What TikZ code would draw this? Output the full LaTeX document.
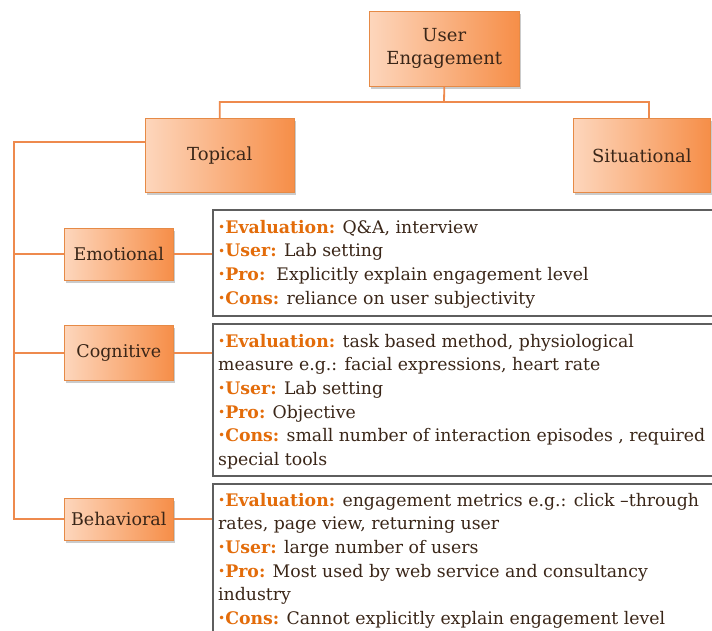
\documentclass[tikz,border=0pt]{standalone}
\usepackage{graphicx}
\usepackage{fontspec}
\setmainfont{DejaVu Serif}
\usetikzlibrary{shadows,calc}
\definecolor{eorange}{HTML}{E36C0A}
\definecolor{lineor}{HTML}{EE8A4D}
\definecolor{boxlight}{HTML}{FDD6BC}
\definecolor{boxdark}{HTML}{F68E48}
\definecolor{tdark}{HTML}{3A2618}
\definecolor{boxbord}{HTML}{5E5E5E}
\newcommand\bul{{\color{eorange}\raisebox{0.2ex}{\scalebox{0.7}{\textbullet}}}}
\newcommand\lab[1]{{\color{eorange}\bfseries #1}}
\tikzset{
  obox/.style={draw=boxdark!70!brown, line width=0.6pt, left color=boxlight, right color=boxdark,
    drop shadow={shadow xshift=2pt, shadow yshift=-2.5pt, fill=black!40, opacity=0.5},
    text=tdark, align=center, font=\fontsize{17.5}{22}\selectfont, anchor=north west},
  obig/.style={obox, font=\fontsize{18}{23}\selectfont},
  conn/.style={draw=lineor, line width=1.8pt},
  tbox/.style={draw=boxbord, line width=1.8pt, fill=white, anchor=north west, inner sep=0pt},
  ttext/.style={text=tdark, align=left, anchor=north west, inner sep=0pt,
    font=\fontsize{17.3}{23.6}\selectfont}
}
\begin{document}
\begin{tikzpicture}[x=1pt,y=-1pt]
\clip (0,0) rectangle (712,630);
\fill[white] (0,0) rectangle (712,630);
% top level
\node[obig, minimum width=150pt, minimum height=75pt] (ue) at (369,11) {User\\Engagement};
\node[obig, minimum width=149pt, minimum height=74pt] (top) at (145,118) {Topical};
\node[obig, minimum width=137pt, minimum height=74pt] (sit) at (573,118) {Situational};
\coordinate (bus) at (444,102);
\coordinate (trunk) at (14,142);
\draw[conn] (ue.south) -- (bus) -| (top.north);
\draw[conn] (bus) -| ($(sit.north)+(7,0)$);
% second level
\node[obox, minimum width=109pt, minimum height=52pt] (emo) at (64,228) {Emotional};
\node[obox, minimum width=109pt, minimum height=55pt] (cog) at (64,325) {Cognitive};
\node[obox, minimum width=109pt, minimum height=42pt] (beh) at (64,498) {Behavioral};
\draw[conn] (top.west |- trunk) -- (trunk) -- (trunk |- beh.west) -- (beh.west);
\draw[conn] (trunk |- emo.west) -- (emo.west);
\draw[conn] (trunk |- cog.west) -- (cog.west);
% text boxes
\node[tbox, minimum width=500pt, minimum height=106pt] (emobox) at (212,209) {};
\node[tbox, minimum width=500pt, minimum height=152pt] (cogbox) at (212,323) {};
\node[tbox, minimum width=500pt, minimum height=170pt] (behbox) at (212,483) {};
\draw[conn] (emo.east) -- (emo.east -| emobox.west);
\draw[conn] (cog.east) -- (cog.east -| cogbox.west);
\draw[conn] (beh.east) -- (beh.east -| behbox.west);
\node[ttext] (emotext) at (218,220) {\bul\lab{Evaluation:} Q\&A, interview\\
\bul\lab{User:} Lab setting\\
\bul\lab{Pro:}\ \ Explicitly explain engagement level\\
\bul\lab{Cons:} reliance on user subjectivity};
\node[ttext] (cogtext) at (218,334) {\bul\lab{Evaluation:} task based method, physiological\\
measure e.g.: facial expressions, heart rate\\
\bul\lab{User:} Lab setting\\
\bul\lab{Pro:} Objective\\
\bul\lab{Cons:} small number of interaction episodes , required\\
special tools};
\node[ttext] (behtext) at (218,493) {\bul\lab{Evaluation:} engagement metrics e.g.: click --through\\
rates, page view, returning user\\
\bul\lab{User:} large number of users\\
\bul\lab{Pro:} Most used by web service and consultancy\\
industry\\
\bul\lab{Cons:} Cannot explicitly explain engagement level};
\end{tikzpicture}
\end{document}
